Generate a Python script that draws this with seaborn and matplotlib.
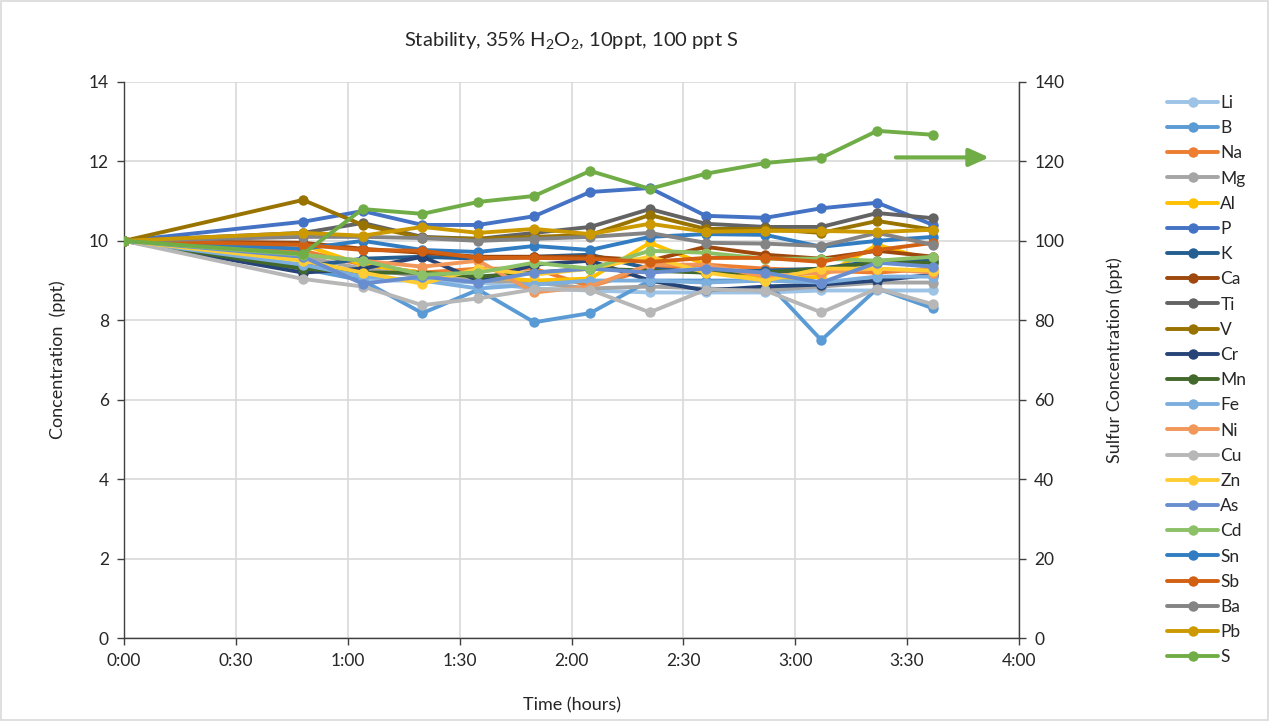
import matplotlib
matplotlib.use("Agg")
import matplotlib.pyplot as plt
from matplotlib.patches import Rectangle
from matplotlib.lines import Line2D
import numpy as np
import pandas as pd
import seaborn as sns

# ---- data -------------------------------------------------------------
time_min = [0, 48, 64, 80, 95, 110, 125, 141, 156, 172, 187, 202, 217]

elements = ["Li", "B", "Na", "Mg", "Al", "P", "K", "Ca", "Ti", "V", "Cr", "Mn",
            "Fe", "Ni", "Cu", "Zn", "As", "Cd", "Sn", "Sb", "Ba", "Pb"]

Li = [10, 9.60, 9.00, 9.00, 8.95, 8.80, 8.75, 8.70, 8.70, 8.70, 8.75, 8.75, 8.75]
B  = [10, 9.30, 9.00, 8.18, 8.77, 7.95, 8.18, 9.00, 9.00, 9.00, 7.50, 8.80, 8.30]
Na = [10, 9.75, 9.40, 9.20, 9.30, 9.30, 8.85, 9.30, 9.40, 9.30, 9.25, 9.20, 9.30]
Mg = [10, 9.60, 9.30, 9.10, 9.00, 8.95, 8.80, 8.85, 8.80, 8.75, 8.85, 8.95, 8.95]
Al = [10, 9.90, 9.40, 9.20, 9.10, 9.00, 9.05, 9.95, 9.40, 9.00, 9.10, 9.90, 9.50]
P  = [10, 10.48, 10.75, 10.40, 10.40, 10.62, 11.23, 11.33, 10.63, 10.58, 10.82, 10.96, 10.40]
K  = [10, 9.35, 9.55, 9.60, 9.55, 9.60, 9.65, 9.30, 9.20, 9.25, 9.30, 9.50, 9.50]
Ca = [10, 9.95, 9.80, 9.70, 9.60, 9.60, 9.60, 9.50, 9.85, 9.65, 9.55, 9.75, 9.60]
Ti = [10, 10.20, 10.45, 10.10, 10.05, 10.20, 10.35, 10.80, 10.43, 10.35, 10.35, 10.70, 10.57]
V  = [10, 11.03, 10.40, 10.08, 10.05, 10.10, 10.15, 10.65, 10.30, 10.30, 10.20, 10.50, 10.28]
Cr = [10, 9.20, 9.30, 9.60, 9.00, 9.40, 9.50, 9.00, 8.75, 8.85, 8.90, 9.00, 9.15]
Mn = [10, 9.30, 9.20, 9.20, 9.10, 9.20, 9.30, 9.25, 9.20, 9.20, 9.30, 9.45, 9.45]
Fe = [10, 9.40, 9.10, 9.00, 8.80, 8.90, 9.00, 9.00, 8.95, 9.00, 8.95, 9.10, 9.10]
Ni = [10, 9.65, 9.50, 9.35, 9.50, 8.70, 8.85, 9.40, 9.40, 9.10, 9.20, 9.30, 9.20]
Cu = [10, 9.04, 8.85, 8.38, 8.55, 8.78, 8.77, 8.20, 8.77, 8.75, 8.20, 8.80, 8.40]
Zn = [10, 9.50, 9.20, 8.92, 9.30, 9.15, 9.30, 9.60, 9.20, 9.00, 9.30, 9.30, 9.25]
As = [10, 9.60, 8.92, 9.10, 8.95, 9.20, 9.30, 9.20, 9.30, 9.20, 8.95, 9.45, 9.35]
Cd = [10, 9.65, 9.50, 9.15, 9.20, 9.45, 9.30, 9.75, 9.70, 9.55, 9.55, 9.50, 9.60]
Sn = [10, 9.80, 10.00, 9.77, 9.72, 9.87, 9.77, 10.10, 10.17, 10.15, 9.85, 10.00, 10.10]
Sb = [10, 9.90, 9.77, 9.75, 9.57, 9.57, 9.55, 9.47, 9.57, 9.57, 9.47, 9.77, 9.95]
Ba = [10, 10.10, 10.10, 10.07, 10.00, 10.05, 10.10, 10.20, 9.95, 9.93, 9.87, 10.20, 9.90]
Pb = [10, 10.20, 10.13, 10.35, 10.20, 10.30, 10.17, 10.43, 10.23, 10.25, 10.25, 10.22, 10.28]

S = [100, 96.7, 108.0, 106.8, 109.8, 111.3, 117.6, 113.1, 116.9, 119.6, 120.9, 127.7, 126.7]

x_ticks = [0, 30, 60, 90, 120, 150, 180, 210, 240]
x_tick_labels = ["0:00", "0:30", "1:00", "1:30", "2:00", "2:30", "3:00", "3:30", "4:00"]

colors = ["#9DC3E6", "#5B9BD5", "#ED7D31", "#A5A5A5", "#FFC000", "#4472C4",
          "#255E91", "#9E480E", "#636363", "#997300", "#264478", "#43682B",
          "#7CAFDD", "#F1975A", "#B7B7B7", "#FFCD33", "#698ED0", "#8CC168",
          "#327DC2", "#D26012", "#848484", "#CC9A00"]
s_color = "#70AD47"

series = {"Li": Li, "B": B, "Na": Na, "Mg": Mg, "Al": Al, "P": P, "K": K, "Ca": Ca,
          "Ti": Ti, "V": V, "Cr": Cr, "Mn": Mn, "Fe": Fe, "Ni": Ni, "Cu": Cu,
          "Zn": Zn, "As": As, "Cd": Cd, "Sn": Sn, "Sb": Sb, "Ba": Ba, "Pb": Pb}

rows = []
for el in elements:
    for t, v in zip(time_min, series[el]):
        rows.append({"Time": t, "Conc": v, "Element": el})
df = pd.DataFrame(rows)
df_s = pd.DataFrame({"Time": time_min, "S": S})

# ---- style ------------------------------------------------------------
sns.set_theme(style="white")
plt.rcParams["font.family"] = ["Lato", "DejaVu Sans"]
plt.rcParams["mathtext.fontset"] = "custom"
plt.rcParams["mathtext.rm"] = "Lato"
plt.rcParams["mathtext.it"] = "Lato:italic"

fig = plt.figure(figsize=(12.71, 7.21), dpi=100)
ax = fig.add_axes([0.0976, 0.1151, 0.7041, 0.7712])

grid_c = "#D9D9D9"
txt_c = "#262626"
lw = 2.8
ms = 7.5
fs_tick = 12.5
fs_lab = 13

sns.lineplot(data=df, x="Time", y="Conc", hue="Element", hue_order=elements,
             palette=colors, marker="o", markersize=ms, markeredgewidth=0,
             linewidth=lw, ax=ax, legend=False, sort=False)

ax.set_xlim(0, 240)
ax.set_ylim(0, 14)
ax.set_xticks(x_ticks)
ax.set_xticklabels(x_tick_labels)
ax.set_yticks(range(0, 15, 2))
ax.grid(True, color=grid_c, linewidth=1.2)
ax.set_axisbelow(True)
for sp in ["top", "right"]:
    ax.spines[sp].set_visible(False)
for sp in ["left", "bottom"]:
    ax.spines[sp].set_color("#404040")
    ax.spines[sp].set_linewidth(1.0)
ax.tick_params(axis="both", which="major", length=5, width=1, color="#404040",
               direction="out", labelsize=fs_tick, labelcolor=txt_c,
               bottom=True, left=True, pad=6)
ax.set_xlabel("Time (hours)", fontsize=fs_lab, color=txt_c, labelpad=20)
ax.set_ylabel("Concentration  (ppt)", fontsize=fs_lab, color=txt_c, labelpad=16)

ax2 = ax.twinx()
sns.lineplot(data=df_s, x="Time", y="S", color=s_color, marker="o",
             markersize=ms, markeredgewidth=0, linewidth=lw, ax=ax2, sort=False)
ax2.set_ylim(0, 140)
ax2.set_yticks(range(0, 141, 20))
ax2.set_xlim(0, 240)
for sp in ["top", "left", "bottom"]:
    ax2.spines[sp].set_visible(False)
ax2.spines["right"].set_color("#404040")
ax2.spines["right"].set_linewidth(1.0)
ax2.tick_params(axis="y", length=5, width=1, color="#404040", direction="out",
                labelsize=fs_tick, labelcolor=txt_c, right=True, pad=6)
ax2.set_ylabel("Sulfur Concentration (ppt)", fontsize=fs_lab, color=txt_c,
               labelpad=30)
ax2.grid(False)

# arrow showing S uses the right axis
ax2.annotate("", xy=(232, 121), xytext=(207, 121),
             arrowprops=dict(arrowstyle="-|>,head_length=1.0,head_width=0.45",
                             color=s_color, lw=3, shrinkA=0, shrinkB=0))

ax.set_title(r"Stability, 35% H$_2$O$_2$, 10ppt, 100 ppt S", fontsize=14.5,
             color=txt_c, pad=26)

# legend
handles = [Line2D([], [], color=c, lw=lw, marker="o", markersize=ms,
                  markeredgewidth=0) for c in colors]
handles.append(Line2D([], [], color=s_color, lw=lw, marker="o", markersize=ms,
                      markeredgewidth=0))
labels = elements + ["S"]
fig.legend(handles, labels, loc="upper left", bbox_to_anchor=(0.913, 0.878),
           frameon=False, fontsize=12.5, handlelength=2.9, handletextpad=0.15,
           labelspacing=0.53, borderaxespad=0)

fig.patches.append(Rectangle((0.001, 0.002), 0.997, 0.996, transform=fig.transFigure,
                             fill=False, edgecolor="#D9D9D9", linewidth=1.2))

fig.savefig("out.png", dpi=100, facecolor="white")
